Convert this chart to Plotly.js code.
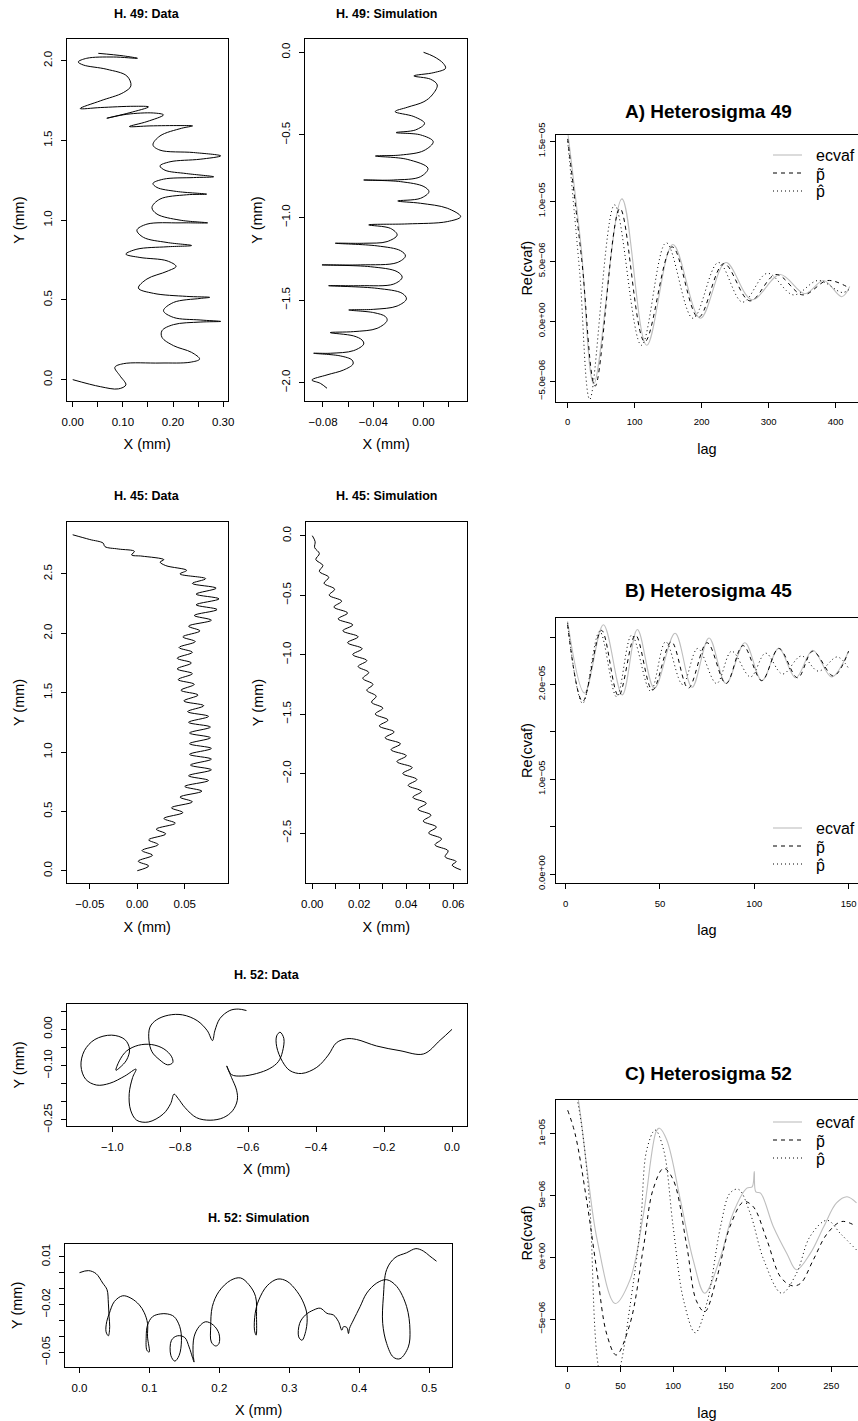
<!DOCTYPE html>
<html>
<head>
<meta charset="utf-8">
<script src="https://cdn.plot.ly/plotly-3.0.1.min.js"></script>
<style>
html,body{margin:0;padding:0;background:#fff;}
#chart{width:858px;height:1421px;}
</style>
</head>
<body>
<div id="chart"></div>
<script>
// ---------- Trajectories (mm) ----------
// H. 49: observed track
const h49DataX = [0.000,0.055,0.091,0.106,0.094,0.084,0.101,0.174,0.234,0.253,0.237,0.201,0.178,0.178,0.201,0.254,0.295,0.254,0.201,0.181,0.201,0.254,0.273,0.227,0.161,0.131,0.148,0.188,0.206,0.188,0.134,0.106,0.128,0.188,0.237,0.188,0.141,0.128,0.148,0.214,0.269,0.214,0.168,0.158,0.174,0.227,0.267,0.207,0.168,0.160,0.181,0.241,0.281,0.227,0.184,0.174,0.194,0.254,0.295,0.241,0.174,0.160,0.174,0.217,0.239,0.214,0.154,0.113,0.148,0.181,0.161,0.108,0.068,0.114,0.151,0.122,0.055,0.015,0.055,0.101,0.116,0.108,0.068,0.021,0.011,0.028,0.081,0.129,0.101,0.051];
const h49DataY = [0.000,-0.044,-0.058,-0.033,0.025,0.077,0.100,0.104,0.109,0.129,0.171,0.213,0.265,0.307,0.345,0.361,0.365,0.374,0.390,0.432,0.484,0.509,0.516,0.522,0.541,0.574,0.631,0.679,0.710,0.745,0.766,0.787,0.818,0.833,0.841,0.860,0.892,0.937,0.975,0.983,0.983,1.000,1.038,1.079,1.132,1.159,1.163,1.180,1.205,1.230,1.257,1.267,1.272,1.292,1.313,1.340,1.366,1.382,1.403,1.424,1.439,1.472,1.528,1.576,1.591,1.593,1.591,1.587,1.618,1.660,1.672,1.664,1.639,1.674,1.710,1.714,1.706,1.700,1.748,1.800,1.842,1.904,1.946,1.973,1.992,2.015,2.023,2.015,2.030,2.046];

// H. 49: simulated track
const h49SimX = [0.0000,0.0082,0.0157,0.0175,0.0082,-0.0077,0.0056,0.0109,0.0069,0.0003,-0.0130,-0.0226,-0.0077,0.0008,-0.0064,-0.0218,-0.0024,0.0077,0.0003,-0.0183,-0.0383,-0.0130,0.0035,-0.0024,-0.0237,-0.0476,-0.0183,0.0003,0.0043,-0.0024,-0.0205,-0.0024,0.0189,0.0295,0.0189,-0.0130,-0.0436,-0.0263,-0.0210,-0.0290,-0.0476,-0.0702,-0.0369,-0.0183,-0.0144,-0.0210,-0.0502,-0.0808,-0.0423,-0.0210,-0.0170,-0.0237,-0.0502,-0.0755,-0.0369,-0.0170,-0.0136,-0.0210,-0.0396,-0.0595,-0.0396,-0.0303,-0.0290,-0.0369,-0.0556,-0.0742,-0.0556,-0.0489,-0.0476,-0.0556,-0.0742,-0.0874,-0.0662,-0.0569,-0.0561,-0.0635,-0.0768,-0.0888,-0.0821,-0.0768];
const h49SimY = [0.000,-0.026,-0.067,-0.097,-0.123,-0.143,-0.163,-0.198,-0.258,-0.299,-0.333,-0.359,-0.389,-0.430,-0.470,-0.486,-0.500,-0.541,-0.595,-0.622,-0.628,-0.648,-0.702,-0.753,-0.773,-0.773,-0.783,-0.813,-0.844,-0.884,-0.900,-0.914,-0.944,-0.995,-1.025,-1.039,-1.045,-1.066,-1.106,-1.146,-1.156,-1.156,-1.172,-1.201,-1.233,-1.273,-1.287,-1.287,-1.298,-1.328,-1.362,-1.403,-1.413,-1.413,-1.429,-1.459,-1.493,-1.536,-1.556,-1.560,-1.576,-1.600,-1.624,-1.671,-1.691,-1.697,-1.717,-1.742,-1.766,-1.806,-1.822,-1.822,-1.838,-1.863,-1.887,-1.923,-1.953,-1.984,-2.004,-2.034];

// H. 45: observed track
const h45DataX = [0.000,0.012,0.001,0.016,0.005,0.022,0.012,0.030,0.020,0.040,0.028,0.048,0.036,0.058,0.045,0.068,0.050,0.075,0.054,0.078,0.056,0.078,0.055,0.078,0.055,0.077,0.055,0.077,0.054,0.075,0.053,0.070,0.049,0.064,0.046,0.060,0.043,0.058,0.042,0.057,0.042,0.058,0.044,0.061,0.048,0.066,0.054,0.078,0.060,0.084,0.062,0.086,0.062,0.083,0.058,0.072,0.045,0.052,0.030,0.024,0.028,0.005,-0.006,-0.003,-0.020,-0.034,-0.036,-0.050,-0.068];
const h45DataY = [0.00,0.04,0.08,0.13,0.17,0.22,0.26,0.31,0.35,0.40,0.44,0.49,0.53,0.58,0.62,0.67,0.71,0.76,0.80,0.85,0.89,0.94,0.98,1.03,1.07,1.12,1.16,1.21,1.25,1.30,1.34,1.39,1.43,1.48,1.52,1.57,1.61,1.66,1.70,1.75,1.79,1.84,1.88,1.93,1.97,2.02,2.06,2.11,2.15,2.20,2.24,2.29,2.33,2.38,2.42,2.46,2.50,2.53,2.57,2.60,2.62,2.65,2.66,2.69,2.71,2.73,2.76,2.79,2.83];

// H. 45: simulated track
const h45SimX = [0.0000,0.0012,0.0010,0.0030,0.0015,0.0045,0.0030,0.0070,0.0050,0.0095,0.0072,0.0125,0.0092,0.0150,0.0110,0.0172,0.0130,0.0195,0.0150,0.0212,0.0172,0.0232,0.0195,0.0240,0.0215,0.0258,0.0232,0.0272,0.0252,0.0300,0.0268,0.0322,0.0285,0.0348,0.0310,0.0375,0.0335,0.0400,0.0360,0.0425,0.0385,0.0445,0.0408,0.0465,0.0428,0.0485,0.0450,0.0505,0.0472,0.0528,0.0495,0.0550,0.0522,0.0578,0.0565,0.0612,0.0595,0.0632];
const h45SimY = [0.00,-0.05,-0.10,-0.15,-0.20,-0.25,-0.30,-0.35,-0.40,-0.45,-0.50,-0.55,-0.60,-0.65,-0.70,-0.75,-0.80,-0.85,-0.90,-0.95,-1.00,-1.05,-1.10,-1.15,-1.20,-1.25,-1.30,-1.35,-1.40,-1.45,-1.50,-1.55,-1.60,-1.65,-1.70,-1.75,-1.80,-1.85,-1.90,-1.95,-2.00,-2.05,-2.10,-2.15,-2.20,-2.25,-2.30,-2.35,-2.40,-2.45,-2.50,-2.55,-2.60,-2.65,-2.70,-2.74,-2.77,-2.81];

// H. 52: observed track
const h52DataX = [0.000,-0.035,-0.084,-0.153,-0.222,-0.281,-0.310,-0.340,-0.364,-0.398,-0.443,-0.477,-0.499,-0.516,-0.516,-0.506,-0.495,-0.499,-0.511,-0.536,-0.575,-0.619,-0.649,-0.663,-0.649,-0.634,-0.632,-0.646,-0.673,-0.712,-0.752,-0.786,-0.806,-0.818,-0.828,-0.850,-0.894,-0.928,-0.946,-0.950,-0.940,-0.930,-0.963,-1.007,-1.046,-1.078,-1.092,-1.082,-1.051,-1.002,-0.963,-0.949,-0.958,-0.977,-0.989,-0.979,-0.958,-0.923,-0.884,-0.848,-0.825,-0.822,-0.837,-0.862,-0.883,-0.892,-0.889,-0.870,-0.835,-0.793,-0.750,-0.720,-0.705,-0.698,-0.683,-0.654,-0.629,-0.605];
const h52DataY = [0.000,-0.030,-0.068,-0.059,-0.046,-0.028,-0.026,-0.037,-0.071,-0.105,-0.122,-0.114,-0.089,-0.048,-0.018,-0.008,-0.025,-0.062,-0.089,-0.108,-0.122,-0.129,-0.125,-0.101,-0.133,-0.168,-0.196,-0.225,-0.244,-0.251,-0.244,-0.216,-0.191,-0.179,-0.205,-0.234,-0.256,-0.251,-0.223,-0.177,-0.133,-0.110,-0.129,-0.149,-0.154,-0.138,-0.101,-0.059,-0.028,-0.016,-0.028,-0.055,-0.085,-0.105,-0.113,-0.087,-0.060,-0.044,-0.042,-0.054,-0.076,-0.092,-0.098,-0.083,-0.062,-0.030,0.006,0.026,0.039,0.040,0.024,-0.004,-0.031,-0.004,0.030,0.052,0.056,0.052];

// H. 52: simulated track
const h52SimX = [0.0000,0.0128,0.0237,0.0332,0.0394,0.0413,0.0423,0.0432,0.0413,0.0380,0.0389,0.0427,0.0499,0.0617,0.0736,0.0855,0.0926,0.0973,0.0973,0.0997,0.0964,0.0954,0.0973,0.1045,0.1154,0.1258,0.1353,0.1434,0.1458,0.1425,0.1363,0.1306,0.1315,0.1401,0.1505,0.1567,0.1614,0.1638,0.1624,0.1638,0.1709,0.1804,0.1914,0.1994,0.1994,0.1947,0.1885,0.1876,0.1899,0.1994,0.2161,0.2303,0.2422,0.2517,0.2531,0.2526,0.2502,0.2512,0.2564,0.2683,0.2835,0.2968,0.3110,0.3205,0.3253,0.3238,0.3181,0.3134,0.3148,0.3229,0.3348,0.3443,0.3538,0.3632,0.3704,0.3751,0.3775,0.3822,0.3846,0.3860,0.3917,0.4012,0.4107,0.4250,0.4392,0.4535,0.4677,0.4725,0.4701,0.4582,0.4487,0.4392,0.4335,0.4345,0.4392,0.4511,0.4677,0.4810,0.4915,0.5009,0.5104];
const h52SimY = [0.0000,0.0013,-0.0006,-0.0065,-0.0107,-0.0191,-0.0276,-0.0339,-0.0396,-0.0371,-0.0308,-0.0255,-0.0181,-0.0145,-0.0160,-0.0202,-0.0251,-0.0318,-0.0403,-0.0498,-0.0487,-0.0403,-0.0329,-0.0276,-0.0259,-0.0259,-0.0276,-0.0339,-0.0424,-0.0519,-0.0555,-0.0519,-0.0424,-0.0396,-0.0407,-0.0466,-0.0530,-0.0561,-0.0509,-0.0403,-0.0339,-0.0308,-0.0329,-0.0382,-0.0445,-0.0460,-0.0435,-0.0339,-0.0213,-0.0118,-0.0048,-0.0033,-0.0075,-0.0149,-0.0276,-0.0392,-0.0361,-0.0255,-0.0171,-0.0082,-0.0040,-0.0054,-0.0118,-0.0191,-0.0266,-0.0361,-0.0424,-0.0403,-0.0318,-0.0266,-0.0234,-0.0223,-0.0255,-0.0266,-0.0308,-0.0361,-0.0339,-0.0344,-0.0382,-0.0350,-0.0297,-0.0213,-0.0128,-0.0065,-0.0044,-0.0086,-0.0213,-0.0361,-0.0466,-0.0540,-0.0530,-0.0445,-0.0318,-0.0149,0.0020,0.0094,0.0125,0.0151,0.0136,0.0104,0.0072];

// ---------- Correlation functions, Re(cvaf) vs lag ----------
// A) Heterosigma 49
const aEcvafLag = [0,20,39,81,118,157,198,236,275,317,354,382,409,421];
const aEcvafVal = [1.58e-5,6.2e-6,-5.2e-6,1.02e-5,-2.0e-6,6.4e-6,0.25e-6,4.9e-6,1.8e-6,3.9e-6,2.3e-6,3.4e-6,2.05e-6,2.9e-6];
const aTildeLag = [0,21,41,78,115,156,195,233,272,311,351,388,421];
const aTildeVal = [1.52e-5,5.1e-6,-5.4e-6,9.4e-6,-1.7e-6,6.2e-6,0.33e-6,4.8e-6,1.7e-6,3.9e-6,2.2e-6,3.4e-6,2.75e-6];
const aHatLag = [0,18,33,70,110,147,187,225,261,298,337,374,410,421];
const aHatVal = [1.50e-5,4.0e-6,-6.5e-6,9.7e-6,-2.0e-6,6.55e-6,0.25e-6,4.9e-6,1.6e-6,4.0e-6,2.2e-6,3.4e-6,2.4e-6,2.7e-6];

// B) Heterosigma 45
const bEcvafLag = [1,10,20,30,38,47,58,67,76,85,95,104,113,122,131,141,150];
const bEcvafVal = [2.665e-5,1.91e-5,2.63e-5,1.89e-5,2.58e-5,1.96e-5,2.54e-5,1.97e-5,2.49e-5,2.01e-5,2.44e-5,2.04e-5,2.38e-5,2.07e-5,2.36e-5,2.08e-5,2.35e-5];
const bTildeLag = [1,9,19,28,37,46,56,65,75,85,94,104,113,123,131,142,150];
const bTildeVal = [2.63e-5,1.82e-5,2.57e-5,1.88e-5,2.52e-5,1.94e-5,2.45e-5,1.96e-5,2.44e-5,2.01e-5,2.41e-5,2.04e-5,2.38e-5,2.07e-5,2.35e-5,2.09e-5,2.35e-5];
const bHatLag = [1,9,18,27,35,45,53,62,70,80,88,98,106,115,125,134,144,150];
const bHatVal = [2.65e-5,1.80e-5,2.56e-5,1.87e-5,2.52e-5,1.93e-5,2.45e-5,2.00e-5,2.38e-5,2.01e-5,2.35e-5,2.08e-5,2.33e-5,2.11e-5,2.30e-5,2.14e-5,2.29e-5,2.17e-5];

// C) Heterosigma 52
const cEcvafLag = [0,10,18,28,45,59,72,84,87,94,107,119,130,145,157,170,175,177,178.5,183,195,208,217,230,243,255,265,274];
const cEcvafVal = [17.0e-6,12.8e-6,7.4e-6,1.4e-6,-3.73e-6,-1.84e-6,3.57e-6,10.2e-6,10.45e-6,9.5e-6,4.6e-6,-0.2e-6,-2.9e-6,0.05e-6,3.6e-6,5.6e-6,5.7e-6,6.95e-6,5.3e-6,5.2e-6,2.5e-6,0.3e-6,-1.0e-6,0.3e-6,2.5e-6,4.4e-6,4.9e-6,4.4e-6];
const cTildeLag = [0,7,18,28,37,46,59,72,81,91,100,113,122,130,141,154,167,176,189,202,213,221,233,246,260,274];
const cTildeVal = [11.9e-6,10.0e-6,4.6e-6,-1.3e-6,-6.2e-6,-7.9e-6,-5.4e-6,0.9e-6,5.5e-6,7.2e-6,6.3e-6,0.9e-6,-3.5e-6,-4.4e-6,-1.8e-6,2.5e-6,4.5e-6,4.1e-6,1.4e-6,-1.6e-6,-2.3e-6,-2.1e-6,-0.2e-6,1.9e-6,2.9e-6,2.5e-6];
const cHatLag = [0,9,15,21,29,39,50,59,69,75,83,91,100,110,121,132,145,154,162,173,186,203,217,230,246,259,274];
const cHatVal = [16.0e-6,12.8e-6,9.5e-6,4.1e-6,-8.8e-6,-12.0e-6,-8.8e-6,-4.0e-6,2.5e-6,8.7e-6,10.3e-6,8.7e-6,2.5e-6,-3.5e-6,-6.1e-6,-3.7e-6,2.5e-6,5.2e-6,5.5e-6,3.6e-6,-0.2e-6,-2.9e-6,-1.3e-6,1.7e-6,3.0e-6,1.9e-6,0.6e-6];

// ---------- Tick labels ----------
const ticksH49DataX = {v:[0,0.05,0.10,0.15,0.20,0.25,0.30], t:['0.00','','0.10','','0.20','','0.30']};
const ticksH49DataY = {v:[0,0.5,1.0,1.5,2.0], t:['0.0','0.5','1.0','1.5','2.0']};
const ticksH49SimX  = {v:[-0.08,-0.06,-0.04,-0.02,0,0.02], t:['\u22120.08','','\u22120.04','','0.00','']};
const ticksH49SimY  = {v:[0,-0.5,-1.0,-1.5,-2.0], t:['0.0','\u22120.5','\u22121.0','\u22121.5','\u22122.0']};
const ticksH45DataX = {v:[-0.05,0,0.05], t:['\u22120.05','0.00','0.05']};
const ticksH45DataY = {v:[0,0.5,1.0,1.5,2.0,2.5], t:['0.0','0.5','1.0','1.5','2.0','2.5']};
const ticksH45SimX  = {v:[0,0.01,0.02,0.03,0.04,0.05,0.06], t:['0.00','','0.02','','0.04','','0.06']};
const ticksH45SimY  = {v:[0,-0.5,-1.0,-1.5,-2.0,-2.5], t:['0.0','\u22120.5','\u22121.0','\u22121.5','\u22122.0','\u22122.5']};
const ticksH52DataX = {v:[-1.0,-0.8,-0.6,-0.4,-0.2,0], t:['\u22121.0','\u22120.8','\u22120.6','\u22120.4','\u22120.2','0.0']};
const ticksH52DataY = {v:[0.05,0,-0.05,-0.10,-0.15,-0.20,-0.25], t:['','0.00','','\u22120.10','','','\u22120.25']};
const ticksH52SimX  = {v:[0,0.1,0.2,0.3,0.4,0.5], t:['0.0','0.1','0.2','0.3','0.4','0.5']};
const ticksH52SimY  = {v:[0.01,0,-0.01,-0.02,-0.03,-0.04,-0.05], t:['0.01','','','\u22120.02','','','\u22120.05']};
const ticksAX = {v:[0,100,200,300,400], t:['0','100','200','300','400']};
const ticksAY = {v:[-5e-6,0,5e-6,1e-5,1.5e-5], t:['\u22125.0e\u221206','0.0e+00','5.0e\u221206','1.0e\u221205','1.5e\u221205']};
const ticksBX = {v:[0,50,100,150], t:['0','50','100','150']};
const ticksBY = {v:[0,5e-6,1e-5,1.5e-5,2e-5,2.5e-5], t:['0.0e+00','','1.0e\u221205','','2.0e\u221205','']};
const ticksCX = {v:[0,50,100,150,200,250], t:['0','50','100','150','200','250']};
const ticksCY = {v:[-5e-6,0,5e-6,1e-5], t:['\u22125e\u221206','0e+00','5e\u221206','1e\u221205']};

const seriesNames = ['ecvaf', 'p\u0303', 'p\u0302'];

// ---------- Layout helpers ----------
const W = 858, H = 1421;
const FONT = 'Liberation Sans, Arial, Helvetica, sans-serif';
const xd = (l, r) => [l / W, Math.min(r / W, 1)];
const yd = (t, b) => [1 - b / H, 1 - t / H];

function xAxis(l, r, range, ticks, anchor, title, opts) {
  opts = opts || {};
  return {
    domain: xd(l, r), range: range, anchor: anchor,
    showline: true, linecolor: '#000', linewidth: 1, mirror: true,
    ticks: 'outside', ticklen: 5, tickwidth: 1, tickcolor: '#000',
    tickmode: 'array', tickvals: ticks.v, ticktext: ticks.t,
    tickfont: {family: FONT, size: opts.tickSize || 11.5, color: '#000'},
    ticklabelstandoff: opts.labStand !== undefined ? opts.labStand : 5,
    showgrid: false, zeroline: false, fixedrange: true,
    title: {text: title, font: {family: FONT, size: 14.5, color: '#000'}, standoff: opts.titleStand !== undefined ? opts.titleStand : 12}
  };
}
function yAxis(t, b, range, ticks, anchor, title, opts) {
  opts = opts || {};
  return {
    domain: yd(t, b), range: range, anchor: anchor,
    showline: true, linecolor: '#000', linewidth: 1, mirror: opts.mirror !== undefined ? opts.mirror : true,
    ticks: 'outside', ticklen: 5, tickwidth: 1, tickcolor: '#000',
    tickmode: 'array', tickvals: ticks.v, ticktext: ticks.t, tickangle: -90,
    tickfont: {family: FONT, size: opts.tickSize || 11.5, color: '#000'},
    ticklabelstandoff: opts.labStand !== undefined ? opts.labStand : 4,
    showgrid: false, zeroline: false, fixedrange: true,
    title: {text: title, font: {family: FONT, size: 14.5, color: '#000'}, standoff: opts.titleStand !== undefined ? opts.titleStand : 14}
  };
}

function track(x, y, xa, ya) {
  return {type: 'scatter', mode: 'lines', x: x, y: y, xaxis: xa, yaxis: ya,
          line: {color: '#000', width: 1, shape: 'spline', smoothing: 1},
          hoverinfo: 'skip', showlegend: false};
}
const lineStyles = [
  {color: '#bebebe', width: 1.1, dash: 'solid'},
  {color: '#000', width: 1, dash: '4px,4px'},
  {color: '#000', width: 1, dash: '1px,3px'}
];
function cvaf(lags, vals, k, xa, ya) {
  return {type: 'scatter', mode: 'lines', x: lags, y: vals, xaxis: xa, yaxis: ya,
          name: seriesNames[k], showlegend: false,
          line: Object.assign({shape: 'spline', smoothing: 1}, lineStyles[k]),
          hoverinfo: 'skip'};
}

const data = [
  track(h49DataX, h49DataY, 'x', 'y'),
  track(h49SimX, h49SimY, 'x2', 'y2'),
  cvaf(aEcvafLag, aEcvafVal, 0, 'x3', 'y3'),
  cvaf(aTildeLag, aTildeVal, 1, 'x3', 'y3'),
  cvaf(aHatLag, aHatVal, 2, 'x3', 'y3'),
  track(h45DataX, h45DataY, 'x4', 'y4'),
  track(h45SimX, h45SimY, 'x5', 'y5'),
  cvaf(bEcvafLag, bEcvafVal, 0, 'x6', 'y6'),
  cvaf(bTildeLag, bTildeVal, 1, 'x6', 'y6'),
  cvaf(bHatLag, bHatVal, 2, 'x6', 'y6'),
  track(h52DataX, h52DataY, 'x7', 'y7'),
  track(h52SimX, h52SimY, 'x8', 'y8'),
  cvaf(cEcvafLag, cEcvafVal, 0, 'x9', 'y9'),
  cvaf(cTildeLag, cTildeVal, 1, 'x9', 'y9'),
  cvaf(cHatLag, cHatVal, 2, 'x9', 'y9')
];

const right = {tickSize: 9.5, labStand: 1, titleStand: 0, mirror: false};
const rightX = {tickSize: 9.5, labStand: 6, titleStand: 17};

function title(text, cx, cy, size) {
  return {text: '<b>' + text + '</b>', x: cx / W, y: 1 - cy / H, xref: 'paper', yref: 'paper',
          xanchor: 'center', yanchor: 'middle', showarrow: false,
          font: {family: FONT, size: size, color: '#000'}};
}

// Key for the three correlation curves (drawn without a box, top-right of each panel)
const keyShapes = [], keyTexts = [];
function addKey(rows) {
  rows.forEach((py, k) => {
    keyShapes.push({type: 'line', xref: 'paper', yref: 'paper',
      x0: 773 / W, x1: 802 / W, y0: 1 - py / H, y1: 1 - py / H,
      line: {color: lineStyles[k].color, width: lineStyles[k].width, dash: lineStyles[k].dash}});
    keyTexts.push({text: seriesNames[k], x: 814 / W, y: 1 - (py + (k === 0 ? 0 : 1)) / H,
      xref: 'paper', yref: 'paper', xanchor: 'left', yanchor: 'middle', showarrow: false,
      font: {family: FONT, size: 16, color: '#000'}});
  });
}
addKey([155, 173, 191]);
addKey([828, 846, 864]);
addKey([1122, 1140, 1158]);

const layout = {
  width: W, height: H, margin: {l: 0, r: 0, t: 0, b: 0},
  paper_bgcolor: '#fff', plot_bgcolor: 'rgba(0,0,0,0)',
  font: {family: FONT, color: '#000'},
  showlegend: false,
  xaxis:  xAxis(66.7, 227.7, [-0.012, 0.309], ticksH49DataX, 'y', 'X (mm)'),
  yaxis:  yAxis(39.3, 401, [-0.134, 2.134], ticksH49DataY, 'x', 'Y (mm)'),
  xaxis2: xAxis(305, 467.3, [-0.0943, 0.0348], ticksH49SimX, 'y2', 'X (mm)'),
  yaxis2: yAxis(39.3, 401, [-2.111, 0.0787], ticksH49SimY, 'x2', 'Y (mm)'),
  xaxis3: xAxis(556, 858, [-17.46, 433.3], ticksAX, 'y3', 'lag', rightX),
  yaxis3: yAxis(134.7, 401.7, [-6.7e-6, 1.555e-5], ticksAY, 'x3', 'Re(cvaf)', right),
  xaxis4: xAxis(66.7, 227.7, [-0.0743, 0.0952], ticksH45DataX, 'y4', 'X (mm)'),
  yaxis4: yAxis(521.7, 883.3, [-0.106, 2.94], ticksH45DataY, 'x4', 'Y (mm)'),
  xaxis5: xAxis(306, 466.7, [-0.00268, 0.0657], ticksH45SimX, 'y5', 'X (mm)'),
  yaxis5: yAxis(521.7, 883.3, [-2.923, 0.1177], ticksH45SimY, 'x5', 'Y (mm)'),
  xaxis6: xAxis(556, 858, [-5.14, 155.0], ticksBX, 'y6', 'lag', rightX),
  yaxis6: yAxis(617.7, 883.3, [-0.098e-5, 2.704e-5], ticksBY, 'x6', 'Re(cvaf)', right),
  xaxis7: xAxis(66.7, 466.7, [-1.134, 0.0432], ticksH52DataX, 'y7', 'X (mm)'),
  yaxis7: yAxis(1004, 1126, [-0.267, 0.070], ticksH52DataY, 'x7', 'Y (mm)'),
  xaxis8: xAxis(65, 452.3, [-0.0207, 0.533], ticksH52SimX, 'y8', 'X (mm)'),
  yaxis8: yAxis(1244, 1366.7, [-0.059, 0.018], ticksH52SimY, 'x8', 'Y (mm)'),
  xaxis9: xAxis(556, 858, [-11.1, 275.4], ticksCX, 'y9', 'lag', rightX),
  yaxis9: yAxis(1100, 1366, [-8.79e-6, 1.273e-5], ticksCY, 'x9', 'Re(cvaf)', right),
  shapes: keyShapes,
  annotations: [
    title('H. 49: Data', 147, 14, 12.5),
    title('H. 49: Simulation', 386, 14, 12.5),
    title('A) Heterosigma 49', 708, 111.7, 19),
    title('H. 45: Data', 147, 495.7, 12.5),
    title('H. 45: Simulation', 386, 495.7, 12.5),
    title('B) Heterosigma 45', 708, 590, 19),
    title('H. 52: Data', 266.7, 975, 12.5),
    title('H. 52: Simulation', 258.7, 1218.3, 12.5),
    title('C) Heterosigma 52', 708, 1073, 19)
  ].concat(keyTexts)
};

Plotly.newPlot('chart', data, layout, {staticPlot: true, displayModeBar: false});
</script>
</body>
</html>
